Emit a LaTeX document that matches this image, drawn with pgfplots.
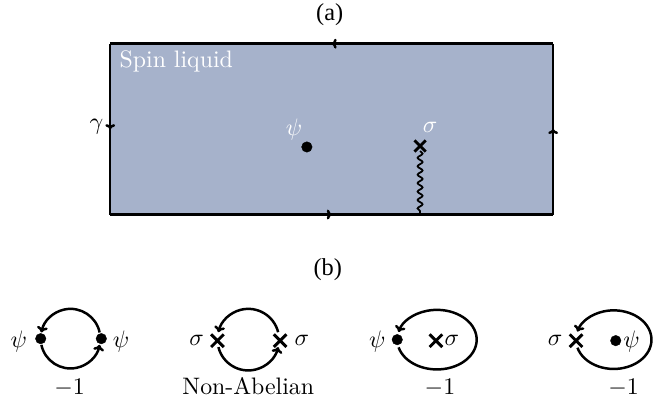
\documentclass[border=0pt]{standalone}
\usepackage{fontspec}
\newfontfamily\timesf{Liberation Serif}
\usepackage{pgfplots}
\pgfplotsset{compat=1.18}
\usetikzlibrary{arrows.meta,decorations.pathmorphing,decorations.markings}
\definecolor{liq}{RGB}{166,178,203}
\tikzset{
  midarrow/.style={postaction={decorate},decoration={markings,mark=at position 0.5 with {\arrow{To[length=5pt,width=10pt]}}}},
  big/.style={scale=2.4, inner sep=0pt},
  tim/.style={scale=2.45, font=\timesf, inner sep=0pt},
  tip/.style={-{To[length=6pt,width=11pt]}}
}
\begin{document}
\begin{tikzpicture}
\begin{axis}[scale only axis, width=657pt, height=413pt,
  xmin=0, xmax=657, ymin=0, ymax=413, y dir=reverse,
  hide axis, clip=false]
\path (rel axis cs:0,0) rectangle (rel axis cs:1,1);
% spin liquid region
\addplot[fill=liq, draw=none] coordinates {(111,44) (557,44) (557,216) (111,216) (111,44)};
\addplot[line width=2.5pt, midarrow] coordinates {(557,44) (111,44)};
\addplot[line width=2.5pt, midarrow] coordinates {(111,44) (111,216)};
\addplot[line width=2.5pt, midarrow] coordinates {(111,216) (557,216)};
\addplot[line width=2.5pt, midarrow] coordinates {(557,216) (557,44)};
% branch cut
\addplot[line width=1.8pt, decorate, decoration={snake, amplitude=2.5pt, segment length=8.5pt}] coordinates {(423,152) (423,216)};
% bottom loops
\draw[line width=2.5pt, tip] (axis cs:71,341) ++(12:30pt) arc[start angle=12, end angle=168, radius=30pt];
\draw[line width=2.5pt, tip] (axis cs:71,341) ++(192:30pt) arc[start angle=192, end angle=348, radius=30pt];
\draw[line width=2.5pt, tip] (axis cs:250,342) ++(14:31pt) arc[start angle=14, end angle=166, radius=31pt];
\draw[line width=2.5pt, tip] (axis cs:250,342) ++(194:31pt) arc[start angle=194, end angle=346, radius=31pt];
\draw[line width=2.5pt, tip] (axis cs:440,342) ++(195:40pt and 30pt) arc[start angle=195, end angle=525, x radius=40pt, y radius=30pt];
\draw[line width=2.5pt, tip] (axis cs:618,342) ++(196:38pt and 29.5pt) arc[start angle=196, end angle=524, x radius=38pt, y radius=29.5pt];
% anyons
\addplot[only marks, mark=*, mark size=5.3pt] coordinates {(309,148) (41,341) (102,341) (400,342) (620,343)};
\addplot[only marks, mark=x, mark size=8pt, line width=2.9pt] coordinates {(423,147)};
\addplot[only marks, mark=x, mark size=9pt, line width=3pt] coordinates {(219,343) (282,343) (439,343) (580,343)};
% labels
\node[big, text=white, anchor=west] at (axis cs:120,62) {Spin liquid};
\node[big, text=white] at (axis cs:296,130) {$\psi$};
\node[big, text=white] at (axis cs:433,128) {$\sigma$};
\node[big] at (axis cs:97,128) {$\gamma$};
\node[tim] at (axis cs:332,15) {(a)};
\node[tim] at (axis cs:330,272) {(b)};
\node[big] at (axis cs:19,344) {$\psi$};
\node[big] at (axis cs:122,344) {$\psi$};
\node[big] at (axis cs:198,343) {$\sigma$};
\node[big] at (axis cs:304,343) {$\sigma$};
\node[big] at (axis cs:380,344) {$\psi$};
\node[big] at (axis cs:455,343) {$\sigma$};
\node[big] at (axis cs:559,343) {$\sigma$};
\node[big] at (axis cs:636,344) {$\psi$};
\node[big] at (axis cs:70,390) {$-1$};
\node[big] at (axis cs:250,389) {Non-Abelian};
\node[big] at (axis cs:443,390) {$-1$};
\node[big] at (axis cs:628,390) {$-1$};
\end{axis}
\end{tikzpicture}
\end{document}
